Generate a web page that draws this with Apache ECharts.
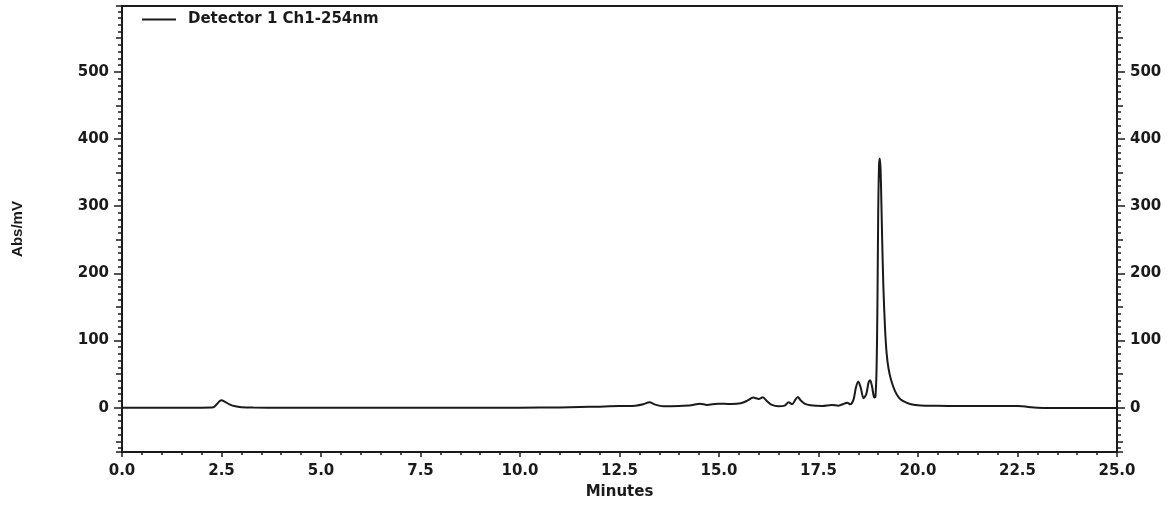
<!DOCTYPE html>
<html>
<head>
<meta charset="utf-8">
<script src="https://cdn.jsdelivr.net/npm/echarts@6/dist/echarts.min.js"></script>
<style>
  html, body { margin: 0; padding: 0; background: #fff; }
  #chart { width: 1174px; height: 506px; }
</style>
</head>
<body>
<div id="chart"></div>
<script>
// Retention time (minutes)
const times = [0, 0.5, 1, 1.5, 2, 2.3, 2.38, 2.45, 2.5, 2.58, 2.7, 2.85, 3.0, 3.3, 4, 5, 6, 7, 8, 9, 10, 11, 11.5, 12, 12.5, 12.9, 13.1, 13.25, 13.4, 13.6, 14, 14.3, 14.52, 14.7, 14.97, 15.3, 15.55, 15.7, 15.86, 16.0, 16.1, 16.2, 16.3, 16.5, 16.65, 16.75, 16.84, 16.92, 16.98, 17.05, 17.15, 17.3, 17.6, 17.83, 18.0, 18.15, 18.22, 18.3, 18.38, 18.44, 18.5, 18.56, 18.63, 18.7, 18.76, 18.8, 18.85, 18.9, 18.93, 18.96, 18.98, 19.0, 19.02, 19.04, 19.06, 19.08, 19.1, 19.13, 19.17, 19.21, 19.26, 19.32, 19.42, 19.52, 19.62, 19.8, 20.0, 20.2, 20.5, 21, 21.5, 22, 22.5, 22.7, 22.85, 23, 23.5, 24, 24.5, 25];
// Absorbance (mV)
const absorbance = [0, 0, 0, 0, 0, 0.5, 5, 9.5, 11, 9, 5, 2, 0.8, 0.2, 0, 0, 0, 0, 0, 0, 0, 0.3, 1, 1.5, 2.5, 3, 5, 8, 4.5, 2, 2.5, 3.5, 6, 4, 6, 5.5, 6.5, 10, 15, 13, 15.5, 10, 5, 2, 3, 8, 5, 12, 16, 11, 6, 3.5, 2.5, 4, 3, 6, 7.5, 5, 12, 30, 39, 30, 14, 20, 38, 41, 30, 15, 16, 60, 150, 290, 360, 371, 355, 305, 250, 180, 120, 82, 58, 42, 25, 15, 10, 5.5, 3.5, 3, 2.8, 2.5, 2.5, 2.5, 2.3, 1.8, 0.5, 0, -0.5, -0.5, -0.5, -0.5];

const seriesName = 'Detector 1 Ch1-254nm';
const xTitle = 'Minutes';
const yTitle = 'Abs/mV';

const xMin = 0, xMax = 25, xStep = 2.5;
const yMin = -66, yMax = 598;

const FONT = 'DejaVu Sans';
const INK = '#1a1a1a';

const points = times.map((t, i) => [t, absorbance[i]]);

function tickAxis(position, step, len, withLabels, extra) {
  return Object.assign({
    type: 'value',
    position: position,
    min: yMin,
    max: yMax,
    minInterval: step,
    maxInterval: step,
    splitNumber: Math.round((yMax - yMin) / step),
    axisLine: { show: true, lineStyle: { color: INK, width: 2 } },
    axisTick: { show: true, inside: false, length: len, lineStyle: { color: INK, width: 1.5 } },
    axisLabel: withLabels ? {
      show: true, showMinLabel: false, showMaxLabel: false,
      color: INK, fontFamily: FONT, fontWeight: 'bold', fontSize: 15,
      margin: 13
    } : { show: false },
    splitLine: { show: false }
  }, extra || {});
}

const chart = echarts.init(document.getElementById('chart'), null, { renderer: 'canvas' });
chart.setOption({
  animation: false,
  backgroundColor: '#ffffff',
  grid: { left: 122, right: 57, top: 6, bottom: 54, containLabel: false },
  legend: {
    left: 142, top: 12, padding: 0,
    icon: 'rect', itemWidth: 34, itemHeight: 2,
    textStyle: { color: INK, fontFamily: FONT, fontWeight: 'bold', fontSize: 15, padding: [0, 0, 0, 7] },
    data: [seriesName]
  },
  xAxis: [
    {
      type: 'value', position: 'bottom', min: xMin, max: xMax, interval: xStep,
      axisLine: { show: true, onZero: false, lineStyle: { color: INK, width: 2 } },
      axisTick: { show: true, inside: false, length: 5, lineStyle: { color: INK, width: 1.5 } },
      minorTick: { show: true, splitNumber: 5, length: 3, lineStyle: { color: INK, width: 1.5 } },
      axisLabel: { color: INK, fontFamily: FONT, fontWeight: 'bold', fontSize: 15, margin: 12,
        formatter: v => v.toFixed(1) },
      splitLine: { show: false },
      name: xTitle, nameLocation: 'middle', nameGap: 33,
      nameTextStyle: { color: INK, fontFamily: FONT, fontWeight: 'bold', fontSize: 15 }
    },
    {
      type: 'value', position: 'top', min: xMin, max: xMax,
      axisLine: { show: true, onZero: false, lineStyle: { color: INK, width: 2 } },
      axisTick: { show: false }, axisLabel: { show: false }, splitLine: { show: false }
    }
  ],
  yAxis: [
    tickAxis('left', 100, 8, true, {
      name: yTitle, nameLocation: 'middle', nameGap: 97, nameRotate: 90,
      nameTextStyle: { color: INK, fontFamily: 'Liberation Sans', fontWeight: 'bold', fontSize: 15 }
    }),
    tickAxis('left', 50, 6, false),
    tickAxis('left', 10, 4, false),
    tickAxis('right', 100, 8, true),
    tickAxis('right', 50, 6, false),
    tickAxis('right', 10, 4, false)
  ],
  series: [{
    name: seriesName,
    type: 'line',
    xAxisIndex: 0,
    yAxisIndex: 0,
    data: points,
    showSymbol: false,
    symbol: 'none',
    smooth: 0.25,
    lineStyle: { color: INK, width: 2 },
    itemStyle: { color: INK }
  }]
});
</script>
</body>
</html>
